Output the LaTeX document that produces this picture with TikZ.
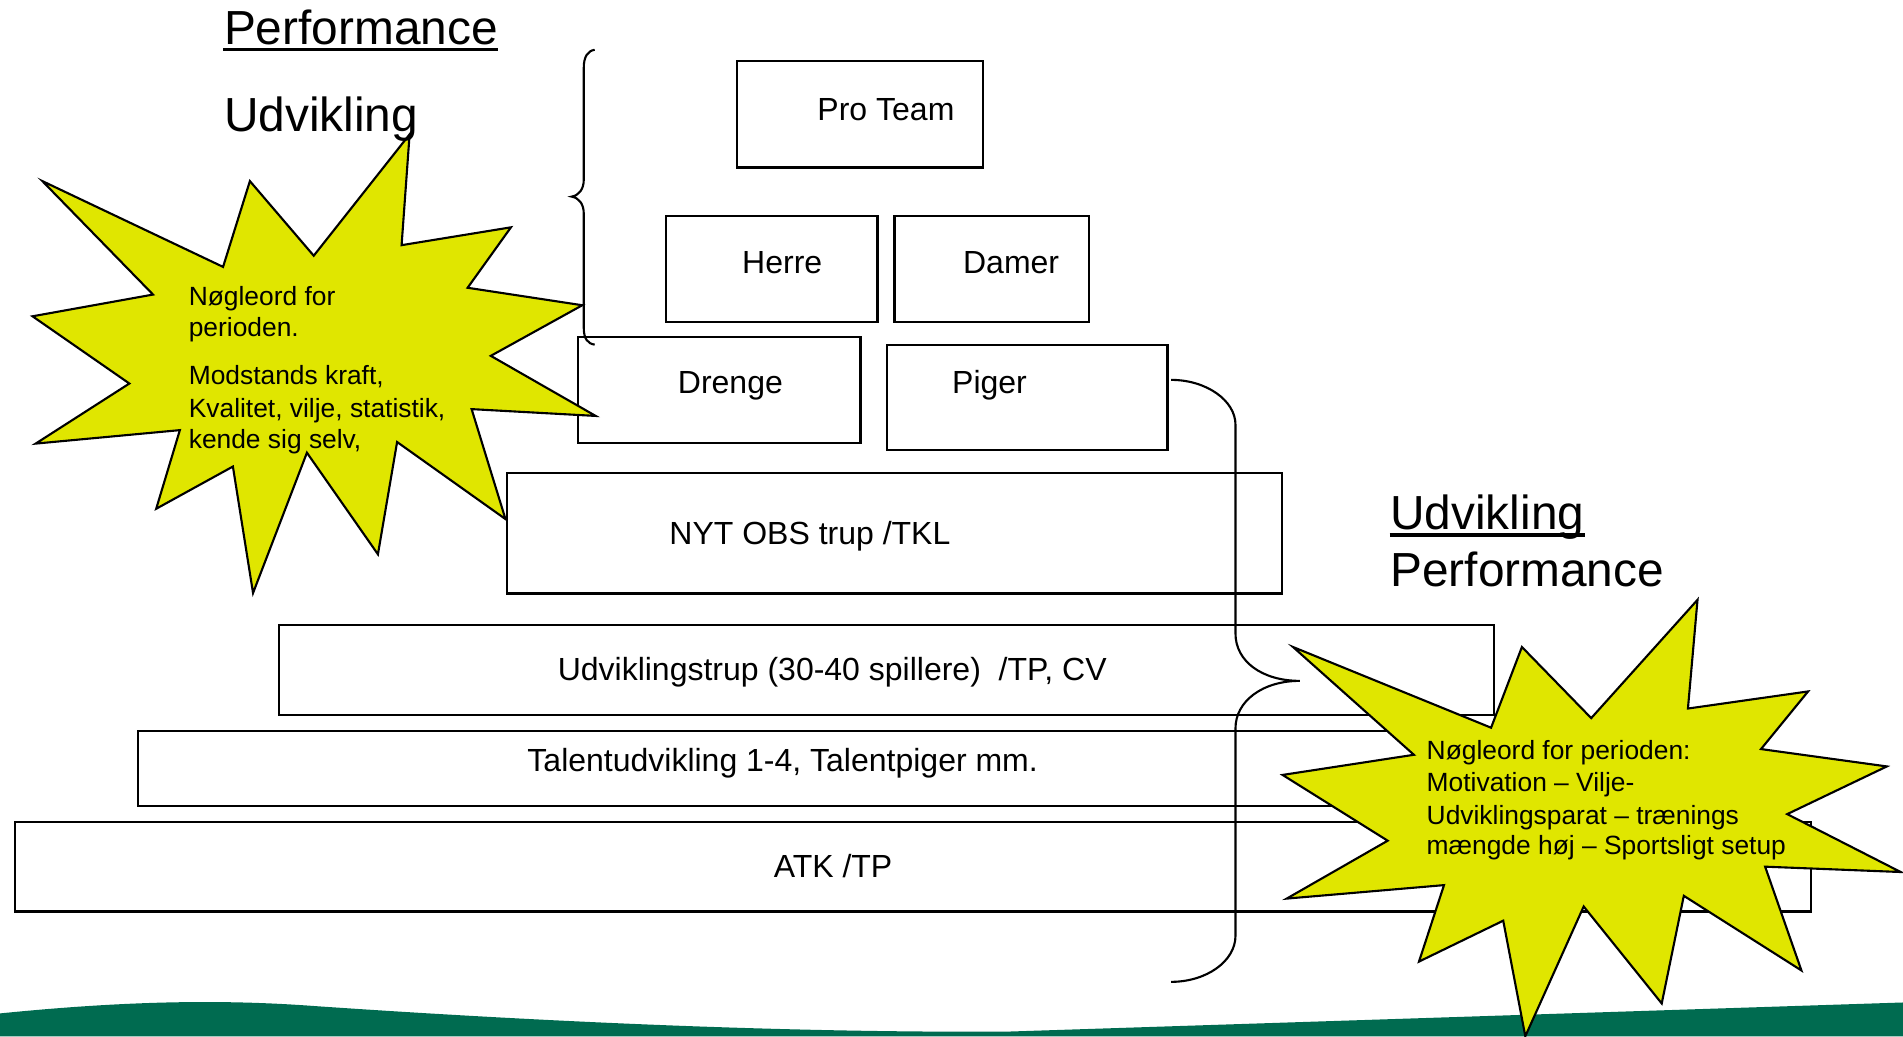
\documentclass[tikz,border=0pt]{standalone}
\usepackage{fontspec}
\setmainfont{Liberation Sans}
\usetikzlibrary{fit}

\definecolor{burstyellow}{RGB}{224,230,0}
\definecolor{bandgreen}{RGB}{0,107,80}

\tikzset{
	box/.style={draw,rectangle,inner sep=0pt,line width=0.6pt},
	boxtext/.style={anchor=base west,inner sep=0pt,font=\fontsize{9.1}{11}\selectfont},
	bursttext/.style={anchor=base west,inner sep=0pt,font=\fontsize{7.5}{9}\selectfont},
	headtext/.style={anchor=base west,inner sep=0pt,font=\fontsize{13.6}{16}\selectfont},
	burst/.style={draw,fill=burstyellow,line width=0.6pt},
	curly/.style={draw,line width=0.6pt},
	uline/.style={draw,line width=0.9pt}
}

\begin{document}
\begin{tikzpicture}[x=0.012136cm,y=-0.012136cm]
	\useasboundingbox (0,0) rectangle (1568,854);
	
	% bund
	\fill[bandgreen] (0,854) -- (0,835) .. controls (100,825) and (180,823) .. (260,829)
		.. controls (450,842) and (650,851) .. (830,850) -- (1568,826) -- (1568,854) -- cycle;
	
	\begin{scope}[every node/.style={box}]
		\node[fit={(607,50) (810,138)}] (pro) {};
		\node[fit={(549,178) (723,265)}] (herre) {};
		\node[fit={(737,178) (897,265)}] (damer) {};
		\node[fit={(476,278) (709,365)}] (drenge) {};
		\node[fit={(731,284) (962,371)}] (piger) {};
		\node[fit={(418,390) (1056,489)}] (nyt) {};
		\node[fit={(230,515) (1231,589)}] (udvtrup) {};
		\node[fit={(114,602) (1400,664)}] (talent) {};
		\node[fit={(12,677) (1492,751)}] (atk) {};
	\end{scope}
	
	\begin{scope}[every node/.style={boxtext}]
		\node (proT) at (673,99) {Pro Team};
		\node (herreT) at (611,225) {Herre};
		\node (damerT) at (793,225) {Damer};
		\node (drengeT) at (558,324.5) {Drenge};
		\node (pigerT) at (784,324.5) {Piger};
		\node (nytT) at (551,449) {NYT OBS trup /TKL};
		\node (udvtrupT) at (459,561) {Udviklingstrup (30-40 spillere)\ \ /TP, CV};
		\node (talentT) at (434,636) {Talentudvikling 1-4, Talentpiger mm.};
		\node (atkT) at (637,723) {ATK /TP};
	\end{scope}
	
	% klammer
	\draw[curly] (490,41) .. controls (484,42) and (481,47) .. (481,56) -- (481,148)
		.. controls (481,156) and (477,161) .. (471,162)
		.. controls (477,163) and (481,168) .. (481,176) -- (481,270)
		.. controls (481,279) and (484,283) .. (490,284);
	\draw[curly] (965,313) .. controls (994,313) and (1018,330) .. (1018,350) -- (1018,522)
		.. controls (1018,545) and (1040,561) .. (1071,561)
		.. controls (1040,561) and (1018,578) .. (1018,600) -- (1018,771)
		.. controls (1018,792) and (994,809) .. (965,809);
	
	% stjerner
	\draw[burst] (337.5,110.7) -- (330.9,202) -- (421,187.3) -- (385.3,237.1) -- (479.8,251.5)
		-- (404.4,293.2) -- (490.8,342.7) -- (388.6,337.1) -- (416.5,427.7) -- (327.2,364.2)
		-- (311.4,456.7) -- (252.9,373) -- (208.5,488.6) -- (191.9,384.4) -- (128.7,419.2)
		-- (148.2,354.4) -- (29.4,365.5) -- (106.6,316) -- (26.8,260.6) -- (126.1,242.7)
		-- (34.9,149.2) -- (183.8,219.9) -- (205.9,149.2) -- (258.5,210.7) -- cycle;
	\draw[burst] (1398.7,494.2) -- (1390.8,583.8) -- (1489.8,569.7) -- (1451,617.2) -- (1554.7,631.5)
		-- (1472.6,670.8) -- (1566.1,718.5) -- (1454.4,714.1) -- (1484.3,799.6) -- (1387.4,738.1)
		-- (1369.2,826.8) -- (1304.9,746.9) -- (1256.8,853.8) -- (1238.6,758.6) -- (1169.2,792.3)
		-- (1189.8,729.3) -- (1060.2,740.4) -- (1143.4,692.7) -- (1056.8,638.5) -- (1165,621.9)
		-- (1065.4,533.1) -- (1228.6,599.6) -- (1254,533.1) -- (1311.1,591.7) -- cycle;
	
	\begin{scope}[every node/.style={bursttext}]
		\node (nl1) at (155,251.5) {Nøgleord for};
		\node (nl2) at (155,277) {perioden.};
		\node (nl3) at (155,316.6) {Modstands kraft,};
		\node (nl4) at (155,343.6) {Kvalitet, vilje, statistik,};
		\node (nl5) at (155,369.7) {kende sig selv,};
		
		\node (nr1) at (1175,625.4) {Nøgleord for perioden:};
		\node (nr2) at (1175,652.3) {Motivation – Vilje-};
		\node (nr3) at (1175,679) {Udviklingsparat – trænings};
		\node (nr4) at (1175,704.4) {mængde høj – Sportsligt setup};
	\end{scope}
	
	\begin{scope}[every node/.style={headtext}]
		\node (perfA) at (184,37) {Performance};
		\node (udvA) at (184,108.5) {Udvikling};
		\node (udvB) at (1145,436.5) {Udvikling};
		\node (perfB) at (1145,483.5) {Performance};
	\end{scope}
	\draw[uline] ([yshift=-1.3pt]perfA.base west) -- ([yshift=-1.3pt]perfA.base east);
	\draw[uline] ([yshift=-1.5pt]udvB.base west) -- ([yshift=-1.5pt]udvB.base east);
\end{tikzpicture}
\end{document}
